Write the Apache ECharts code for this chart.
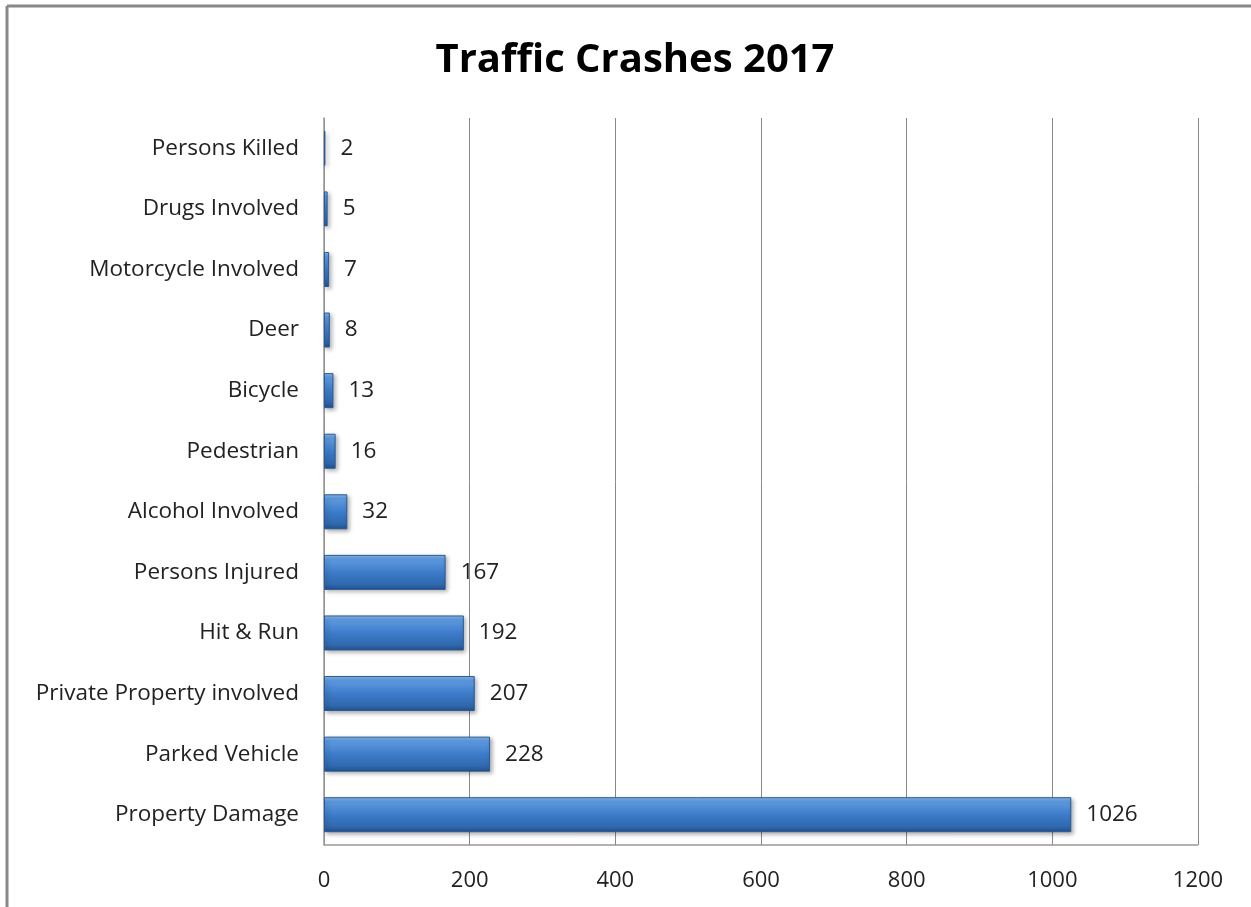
<!DOCTYPE html>
<html><head><meta charset="utf-8">
<script src="https://cdn.jsdelivr.net/npm/echarts@6/dist/echarts.min.js"></script>
<style>html,body{margin:0;padding:0;background:#fff}#c{width:1251px;height:907px}</style>
</head><body><div id="c"></div>
<script>
const categories = ["Persons Killed","Drugs Involved","Motorcycle Involved","Deer","Bicycle","Pedestrian","Alcohol Involved","Persons Injured","Hit & Run","Private Property involved","Parked Vehicle","Property Damage"];
const values = [2,5,7,8,13,16,32,167,192,207,228,1026];
const xTicks = [0,200,400,600,800,1000,1200];
const titleText = "Traffic Crashes 2017";

const chart = echarts.init(document.getElementById('c'), null, {renderer:'canvas'});
const font = "'Open Sans', 'Noto Sans', sans-serif";
chart.setOption({
  animation:false,
  backgroundColor:'#fff',
  title:{text:titleText,left:630,textAlign:'center',top:36,
    textStyle:{fontFamily:font,fontWeight:'bold',fontSize:40,color:'#000'}},
  graphic:[
    {type:'line',shape:{x1:7,y1:6,x2:1251,y2:6},style:{stroke:'#888',lineWidth:3}},
    {type:'line',shape:{x1:7,y1:6,x2:7,y2:907},style:{stroke:'#888',lineWidth:3}},
    {type:'line',shape:{x1:324,y1:845,x2:1198,y2:845},style:{stroke:'#999',lineWidth:1.5}}
  ],
  grid:{left:324,right:53,top:118,bottom:62,containLabel:false},
  xAxis:{type:'value',min:xTicks[0],max:xTicks[xTicks.length-1],interval:200,
    axisLine:{show:false},axisTick:{show:false},
    splitLine:{show:true,lineStyle:{color:'#888',width:1}},
    axisLabel:{margin:25,fontFamily:font,fontSize:22,color:'#222',formatter:v=>String(v)}},
  yAxis:{type:'category',data:categories,inverse:true,
    axisLine:{show:true,lineStyle:{color:'#999',width:1.5}},axisTick:{show:false},
    axisLabel:{margin:25,fontFamily:font,fontSize:22.5,color:'#222'}},
  series:[{type:'bar',data:values,barWidth:35,
    itemStyle:{
      color:new echarts.graphic.LinearGradient(0,0,0,1,[
        {offset:0,color:'#8cbbec'},{offset:0.12,color:'#5f9be0'},
        {offset:0.5,color:'#3d7cca'},{offset:0.85,color:'#2f68ad'},{offset:1,color:'#23508a'}]),
      borderColor:'#2a5a95',borderWidth:1,
      shadowColor:'rgba(0,0,0,0.3)',shadowBlur:4,shadowOffsetX:2,shadowOffsetY:2},
    label:{show:true,position:'right',distance:15,fontFamily:font,fontSize:22.5,color:'#222'}
  }]
});
</script></body></html>
